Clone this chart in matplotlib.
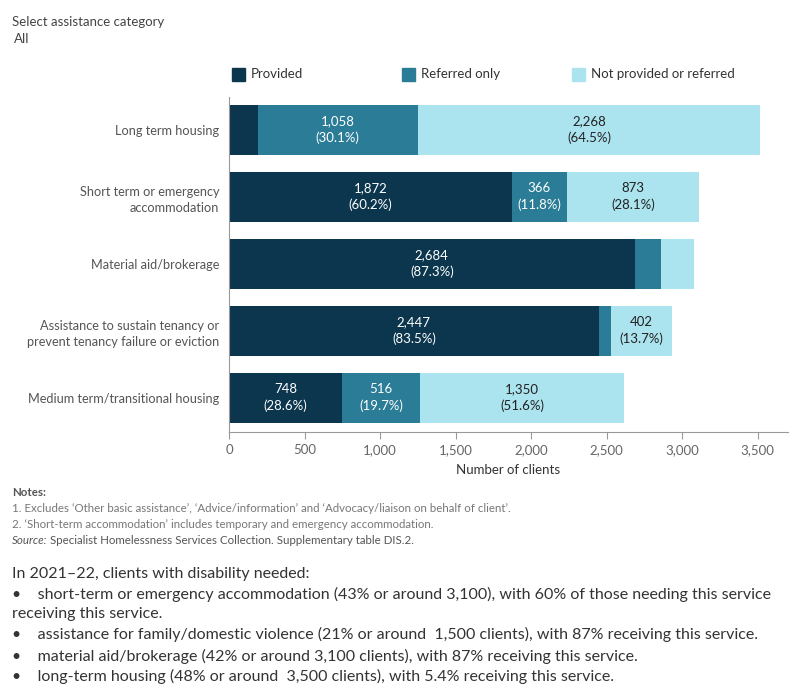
import matplotlib.pyplot as plt
from matplotlib.patches import Rectangle

plt.rcParams['font.family'] = ['Lato', 'DejaVu Sans']

# Data
categories = ['Long term housing',
              'Short term or emergency\naccommodation',
              'Material aid/brokerage',
              'Assistance to sustain tenancy or\nprevent tenancy failure or eviction',
              'Medium term/transitional housing']
provided = [190, 1872, 2684, 2447, 748]
referred = [1058, 366, 177, 81, 516]
not_provided = [2268, 873, 214, 402, 1350]
series_names = ['Provided', 'Referred only', 'Not provided or referred']
colors = ['#0b364d', '#2a7c97', '#abe3ee']
text_colors = ['white', 'white', '#222222']
xticks = [0, 500, 1000, 1500, 2000, 2500, 3000, 3500]

fig = plt.figure(figsize=(8, 7), dpi=100)
ax = fig.add_axes([229 / 800, 1 - 432 / 700, (788 - 229) / 800, (432 - 97) / 700])

series = [provided, referred, not_provided]
y = list(range(len(categories)))
left = [0] * len(categories)
for vals, col, tcol in zip(series, colors, text_colors):
    ax.barh(y, vals, left=left, height=0.746, color=col)
    for i, v in enumerate(vals):
        total = provided[i] + referred[i] + not_provided[i]
        if v > 300:
            ax.text(left[i] + v / 2, i, f'{v:,}\n({v / total * 100:.1f}%)',
                    ha='center', va='center', color=tcol, fontsize=9.5,
                    linespacing=1.45)
    left = [l + v for l, v in zip(left, vals)]

ax.set_ylim(4.51, -0.49)
ax.set_xlim(0, 3700)
ax.set_yticks(y)
ax.set_yticklabels(categories, fontsize=9.2, color='#555555', ha='right',
                   linespacing=1.45)
ax.tick_params(axis='y', length=0, pad=7)
ax.set_xticks(xticks)
ax.set_xticklabels([f'{t:,}' for t in xticks], fontsize=9.5, color='#666666')
ax.tick_params(axis='x', length=5, color='#999999', pad=4)
ax.set_xlabel('Number of clients', fontsize=9.5, color='#333333')
ax.xaxis.set_label_coords((508 - 229) / 559, -0.095)
for s in ['top', 'right']:
    ax.spines[s].set_visible(False)
for s in ['left', 'bottom']:
    ax.spines[s].set_color('#999999')

# Header
fig.text(12 / 800, 1 - 22 / 700, 'Select assistance category', fontsize=9.5,
         color='#444444', va='center')
fig.text(14 / 800, 1 - 39 / 700, 'All', fontsize=9.5, color='#444444',
         va='center')

# Legend
for name, col, xp in zip(series_names, colors, [232, 402, 572]):
    fig.patches.append(Rectangle((xp / 800, 1 - 81 / 700), 13 / 800, 13 / 700,
                                 transform=fig.transFigure, color=col))
    fig.text((xp + 19) / 800, 1 - 74 / 700, name, fontsize=9.5,
             color='#333333', va='center')

# Notes
fig.text(12 / 800, 1 - 493 / 700, 'Notes:', fontsize=8.3, color='#555555',
         va='center', fontweight='bold')
fig.text(12 / 800, 1 - 509 / 700,
         "1. Excludes \u2018Other basic assistance\u2019, \u2018Advice/information\u2019 "
         "and \u2018Advocacy/liaison on behalf of client\u2019.",
         fontsize=8.3, color='#777777', va='center')
fig.text(12 / 800, 1 - 524 / 700,
         "2. \u2018Short-term accommodation\u2019 includes temporary and emergency accommodation.",
         fontsize=8.3, color='#777777', va='center')
fig.text(12 / 800, 1 - 540 / 700, 'Source:', fontsize=8.3,
         color='#555555', va='center', style='italic')
fig.text(50 / 800, 1 - 540 / 700,
         'Specialist Homelessness Services Collection. Supplementary table DIS.2.',
         fontsize=8.3, color='#555555', va='center')

# Commentary
para = [
    (574, 'In 2021\u201322, clients with disability needed:'),
    (594, '\u2022    short-term or emergency accommodation (43% or around 3,100), with 60% of those needing this service'),
    (614, 'receiving this service.'),
    (634, '\u2022    assistance for family/domestic violence (21% or around  1,500 clients), with 87% receiving this service.'),
    (656, '\u2022    material aid/brokerage (42% or around 3,100 clients), with 87% receiving this service.'),
    (676, '\u2022    long-term housing (48% or around  3,500 clients), with 5.4% receiving this service.'),
]
for yp, txt in para:
    fig.text(12 / 800, 1 - yp / 700, txt, fontsize=11.5, color='#333333',
             va='center')

fig.savefig('out.png', dpi=100)
